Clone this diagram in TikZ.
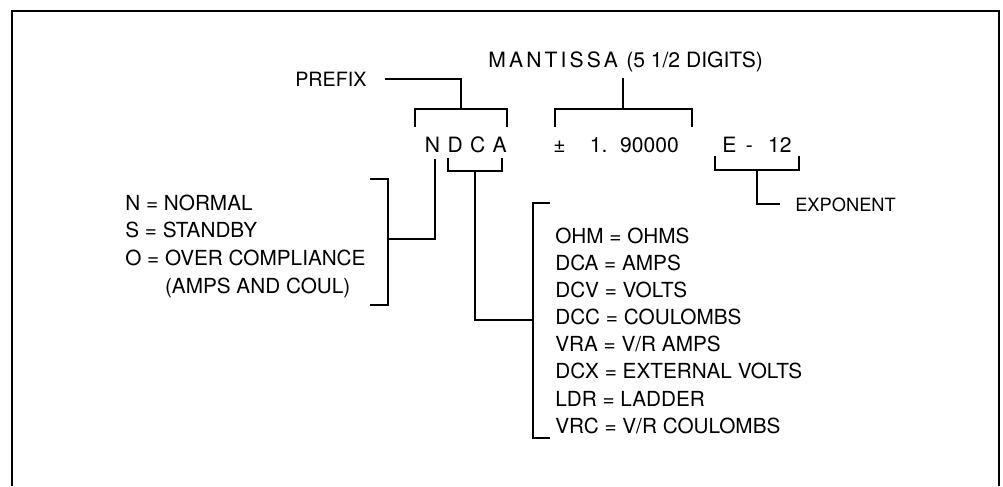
\documentclass[tikz,border=0pt]{standalone}
\usepackage{fontspec}
\setmainfont{TeX Gyre Heros}
\usetikzlibrary{positioning,calc}

\begin{document}
\begin{tikzpicture}[x=0.025cm, y=-0.025cm,
    ln/.style={line width=1.3pt, black},
    lbl/.style={inner sep=0pt, font=\fontsize{15}{19.5}\selectfont},
    lst/.style={lbl, align=left, anchor=north west}
  ]
  \useasboundingbox (0,0) rectangle (1003,486);
  \draw[ln] (12,486) |- (999,11) -- (999,486);

  \node[lbl, anchor=base west] (mant) at (488,68)
    {{\addfontfeature{LetterSpace=15}MANTISSA}\hspace{0.4em}(5 1/2 DIGITS)};
  \node[lbl, anchor=base west, font=\fontsize{14}{17}\selectfont] (prefix) at (295,86) {PREFIX};
  \node[lbl, anchor=base] (nN) at (432.6,152.6) {N};
  \node[lbl, right=4.8pt of nN] (nD) {D};
  \node[lbl, right=4.8pt of nD] (nC) {C};
  \node[lbl, right=4.8pt of nC] (nA) {A};
  \node[lbl, anchor=base west] (mval) at (553,152.6) {±\hspace{1.15em}1.\hspace{0.6em}90000};
  \node[lbl, anchor=base west] (expv) at (722,152.6) {E\hspace{0.45em}-\hspace{0.72em}12};
  \node[lbl, anchor=base west, font=\fontsize{13}{16}\selectfont] (expo) at (795,211) {EXPONENT};
  \node[lst, font=\fontsize{14.75}{19.7}\selectfont] (status) at (125,194.4) {%
    N = NORMAL\\
    S = STANDBY\\
    O = OVER COMPLIANCE\\
    \phantom{O = }(AMPS AND COUL)};
  \node[lst, font=\fontsize{14.75}{19.3}\selectfont] (func) at (555,227.4) {%
    OHM = OHMS\\
    DCA = AMPS\\
    DCV = VOLTS\\
    DCC = COULOMBS\\
    VRA = V/R AMPS\\
    DCX = EXTERNAL VOLTS\\
    LDR = LADDER\\
    VRC = V/R COULOMBS};

  \coordinate (ptop) at (461,109);
  \coordinate (mtop) at (623,109);
  \coordinate (dtop) at (475,171);
  \coordinate (etop) at (757,170);
  \coordinate (sbr) at (388,239);
  \coordinate (fbr) at (533,320);

  \draw[ln] (415,127) |- (ptop) -| (507,127);
  \draw[ln] (555,127) |- (mtop) -| (692,127);
  \draw[ln] (448,158) |- (dtop) -| (502,158);
  \draw[ln] (715,156) |- (etop) -| (799,156);
  \draw[ln] (370,179) -| (sbr) |- (370,305);
  \draw[ln] (550,203) -| (fbr) |- (550,438);

  \draw[ln] ($(prefix.east)+(18,0)$) -| (ptop);
  \draw[ln] ($(mant.south -| mtop)+(0,5)$) -- (mtop);
  \draw[ln] ($(nN.south)+(2,6)$) |- (sbr);
  \draw[ln] (dtop) |- (fbr);
  \draw[ln] (etop) |- ($(expo.west)+(-15,0)$);
\end{tikzpicture}
\end{document}
